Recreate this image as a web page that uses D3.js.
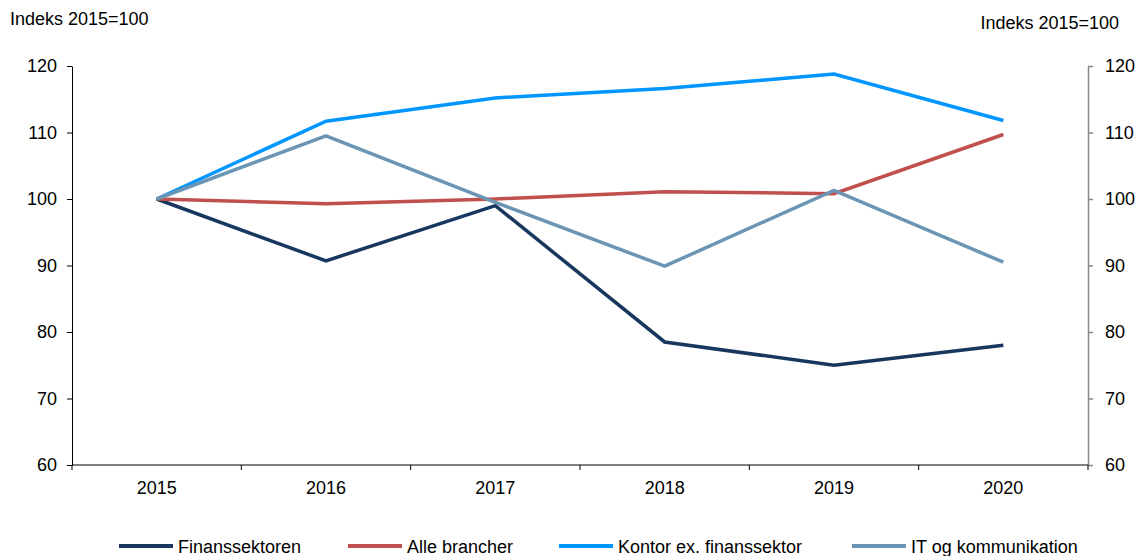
<!DOCTYPE html>
<html>
<head>
<meta charset="utf-8">
<script src="https://cdn.jsdelivr.net/npm/d3@7"></script>
<style>
  body { margin: 0; background: #fff; }
  svg { font-family: "Liberation Sans", Arial, sans-serif; }
</style>
</head>
<body>
<svg id="chart" width="1141" height="556"></svg>
<script>
// data
var years = ['2015', '2016', '2017', '2018', '2019', '2020'];
var finans = [100, 90.7, 99.0, 78.5, 75.0, 78.0];
var alle = [100, 99.3, 100.0, 101.1, 100.8, 109.7];
var kontor = [100, 111.7, 115.2, 116.6, 118.8, 111.8];
var itKom = [100, 109.5, 99.5, 89.9, 101.3, 90.5];
var yTicks = [60, 70, 80, 90, 100, 110, 120];

var series = [
  { name: 'Finanssektoren', values: finans, color: '#17375e' },
  { name: 'Alle brancher', values: alle, color: '#c0504d' },
  { name: 'Kontor ex. finanssektor', values: kontor, color: '#0096ff' },
  { name: 'IT og kommunikation', values: itKom, color: '#6b95b5' }
];

var fs = 18;
var margin = { top: 66, left: 72, bottom: 91, right: 53 };
var svg = d3.select('#chart');
var width = svg.attr('width') - margin.left - margin.right;
var height = svg.attr('height') - margin.top - margin.bottom;

var x = d3.scaleBand().domain(years).range([0, width]);
var y = d3.scaleLinear().domain([60, 120]).range([height, 0]);

var g = svg.append('g')
  .attr('transform', 'translate(' + margin.left + ',' + margin.top + ')');

// left axis
var yLeft = g.append('g')
  .call(d3.axisLeft(y).tickValues(yTicks).tickSize(5).tickPadding(10).tickSizeOuter(0));
yLeft.select('.domain').attr('stroke', '#000');
yLeft.selectAll('text').attr('font-size', fs).attr('fill', '#000').attr('font-family', null);

// right axis
var yRight = g.append('g')
  .attr('transform', 'translate(' + width + ',0)')
  .call(d3.axisRight(y).tickValues(yTicks).tickSize(5).tickPadding(12).tickSizeOuter(0));
yRight.select('.domain').attr('stroke', '#888').attr('stroke-width', 1.5);
yRight.selectAll('.tick line').attr('stroke', '#888').attr('stroke-width', 1.5);
yRight.selectAll('text').attr('font-size', fs).attr('fill', '#000').attr('font-family', null);

// x axis, ticks at category edges
var xAxisG = g.append('g').attr('transform', 'translate(0,' + height + ')');
xAxisG.append('line').attr('x1', 0).attr('x2', width).attr('stroke', '#000');
xAxisG.selectAll('.edge')
  .data(years.concat(['end']))
  .enter().append('line')
  .attr('x1', function(d, i) { return i < years.length ? x(d) : width; })
  .attr('x2', function(d, i) { return i < years.length ? x(d) : width; })
  .attr('y1', 0).attr('y2', 5)
  .attr('stroke', '#000');
xAxisG.selectAll('.lbl')
  .data(years)
  .enter().append('text')
  .attr('x', function(d) { return x(d) + x.bandwidth() / 2; })
  .attr('y', 29)
  .attr('text-anchor', 'middle')
  .attr('font-size', fs)
  .text(function(d) { return d; });

// lines
var line = d3.line()
  .x(function(d, i) { return x(years[i]) + x.bandwidth() / 2; })
  .y(function(d) { return y(d); });

var drawOrder = [series[0], series[2], series[1], series[3]];
g.selectAll('.series')
  .data(drawOrder)
  .enter().append('path')
  .attr('d', function(d) { return line(d.values); })
  .attr('fill', 'none')
  .attr('stroke', function(d) { return d.color; })
  .attr('stroke-width', 3.5)
  .attr('stroke-linejoin', 'miter');

// axis titles
svg.append('text').attr('x', 10).attr('y', 25).attr('font-size', fs).text('Indeks 2015=100');
svg.append('text').attr('x', 1119).attr('y', 29).attr('font-size', fs)
  .attr('text-anchor', 'end').text('Indeks 2015=100');

// legend
var legendX = [119, 348, 559, 852];
var legend = svg.append('g').attr('transform', 'translate(0,546)');
var items = legend.selectAll('g')
  .data(series)
  .enter().append('g')
  .attr('transform', function(d, i) { return 'translate(' + legendX[i] + ',0)'; });
items.append('line')
  .attr('x1', 0).attr('x2', 54)
  .attr('stroke', function(d) { return d.color; })
  .attr('stroke-width', 4);
items.append('text')
  .attr('x', 59).attr('y', 7)
  .attr('font-size', fs)
  .text(function(d) { return d.name; });
</script>
</body>
</html>
